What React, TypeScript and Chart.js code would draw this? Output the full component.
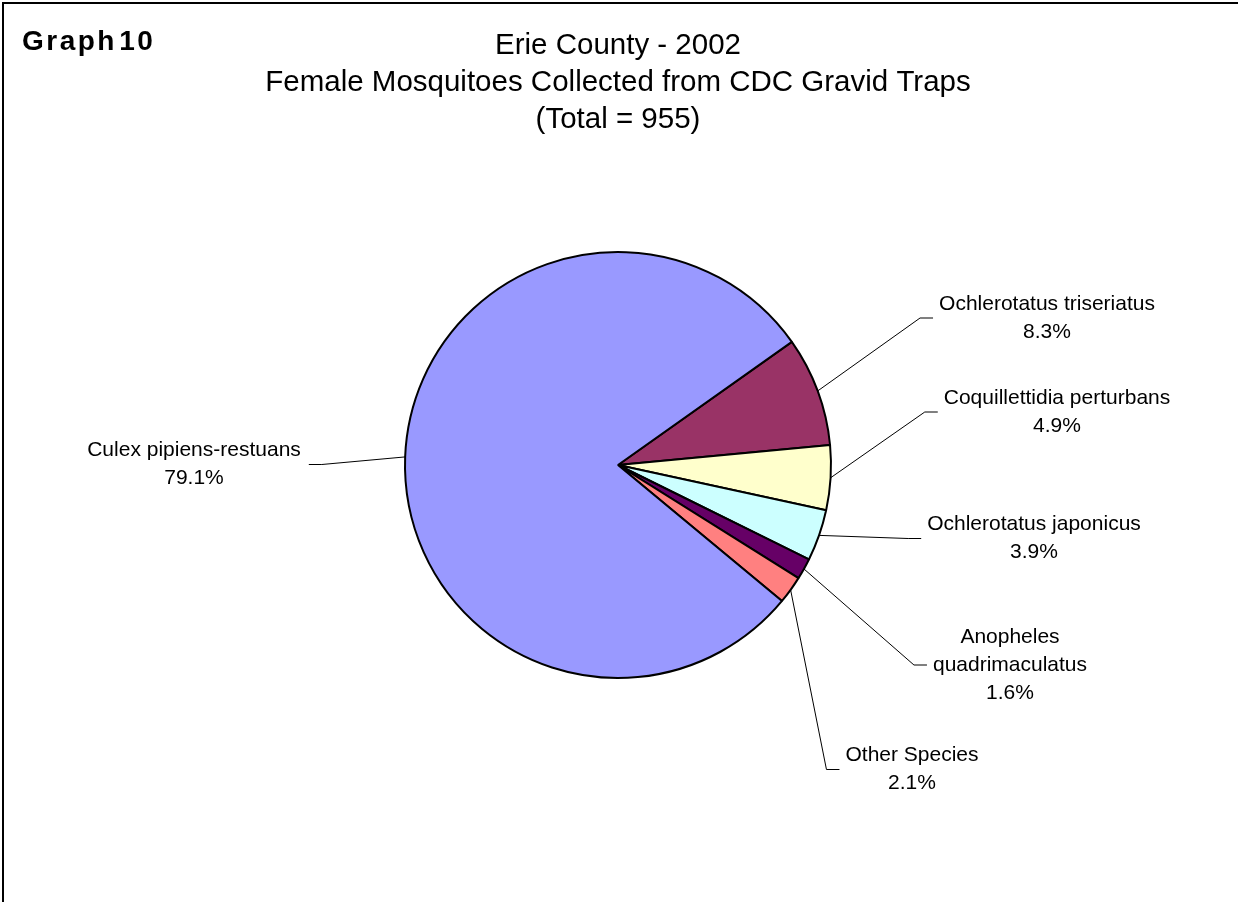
import React, { useEffect, useRef } from 'react';
import { Chart, registerables } from 'chart.js';

Chart.register(...registerables);

// ---- data ----
const categories = [
  'Ochlerotatus triseriatus',
  'Coquillettidia perturbans',
  'Ochlerotatus japonicus',
  'Anopheles quadrimaculatus',
  'Other Species',
  'Culex pipiens-restuans',
];
const percentages = [8.3, 4.9, 3.9, 1.6, 2.1, 79.1];
const titleLines = [
  'Erie County - 2002',
  'Female Mosquitoes Collected from CDC Gravid Traps',
  '(Total = 955)',
];
const cornerLabel = 'Graph 10';

// ---- styles ----
const sliceColors = ['#993366', '#FFFFCC', '#CCFFFF', '#660066', '#FF8080', '#9999FF'];
const FONT = '"Liberation Sans", Arial, sans-serif';
// label block centre offsets from the pie centre (px)
const LABEL_OFFSETS: [number, number][] = [
  [429, -147],
  [439, -53],
  [416, 73.5],
  [392, 200],
  [294, 304.5],
  [-424, -0.5],
];
const LABEL_LH = 28;
const WRAP_WIDTH = 240;

function wrap(ctx: CanvasRenderingContext2D, text: string, maxW: number): string[] {
  if (ctx.measureText(text).width <= maxW) return [text];
  const words = text.split(' ');
  const out: string[] = [];
  let cur = '';
  for (const w of words) {
    const t = cur ? cur + ' ' + w : w;
    if (cur && ctx.measureText(t).width > maxW) {
      out.push(cur);
      cur = w;
    } else cur = t;
  }
  if (cur) out.push(cur);
  return out;
}

const labelPlugin = {
  id: 'excelLabels',
  afterDraw(chart: any) {
    const ctx: CanvasRenderingContext2D = chart.ctx;
    const meta = chart.getDatasetMeta(0);
    ctx.save();
    // frame
    ctx.strokeStyle = '#000';
    ctx.lineWidth = 2;
    ctx.beginPath();
    ctx.moveTo(3, chart.height);
    ctx.lineTo(3, 3);
    ctx.lineTo(chart.width, 3);
    ctx.stroke();
    // corner label
    ctx.font = 'bold 28px ' + FONT;
    (ctx as any).letterSpacing = '2.5px';
    (ctx as any).wordSpacing = '-8px';
    ctx.fillStyle = '#000';
    ctx.textAlign = 'left';
    ctx.textBaseline = 'alphabetic';
    ctx.fillText(cornerLabel, 22, 50);
    (ctx as any).letterSpacing = '0px';
    (ctx as any).wordSpacing = '0px';

    ctx.textBaseline = 'middle';
    ctx.font = '21px ' + FONT;
    meta.data.forEach((arc: any, i: number) => {
      const { x, y, startAngle, endAngle, outerRadius } = arc.getProps(
        ['x', 'y', 'startAngle', 'endAngle', 'outerRadius'],
        true
      );
      const mid = (startAngle + endAngle) / 2;
      const sx = x + Math.cos(mid) * outerRadius;
      const sy = y + Math.sin(mid) * outerRadius;
      const lines = wrap(ctx, categories[i], WRAP_WIDTH).concat([percentages[i].toFixed(1) + '%']);
      const [dx, dy] = LABEL_OFFSETS[i];
      const cx = x + dx;
      const cy = y + dy;
      const w = Math.max(...lines.map((l) => ctx.measureText(l).width));
      const right = dx > 0;
      const end = right ? cx - w / 2 - 6 : cx + w / 2 + 8;
      const elbow = right ? end - 13 : end + 13;
      ctx.strokeStyle = '#000';
      ctx.lineWidth = 1;
      ctx.beginPath();
      ctx.moveTo(sx, sy);
      ctx.lineTo(elbow, cy);
      ctx.lineTo(end, cy);
      ctx.stroke();
      ctx.textAlign = 'center';
      ctx.fillStyle = '#000';
      const top = cy - ((lines.length - 1) * LABEL_LH) / 2;
      lines.forEach((l, k) => ctx.fillText(l, cx, top + k * LABEL_LH));
    });
    ctx.restore();
  },
};

export default function App() {
  const ref = useRef<HTMLCanvasElement | null>(null);
  useEffect(() => {
    document.body.style.margin = '0';
    if (!ref.current) return;
    const chart = new Chart(ref.current, {
      type: 'pie',
      data: {
        labels: categories,
        datasets: [
          {
            data: percentages,
            backgroundColor: sliceColors,
            borderColor: '#000',
            borderWidth: 2,
            radius: 213,
          } as any,
        ],
      },
      options: {
        animation: false,
        responsive: false,
        devicePixelRatio: 1,
        rotation: 54.7,
        layout: { padding: { top: 0, left: 0, right: 2, bottom: 110.5 } },
        plugins: {
          legend: { display: false },
          tooltip: { enabled: false },
          title: {
            display: true,
            text: titleLines,
            color: '#000',
            font: { family: FONT, size: 29.5, weight: 'normal', lineHeight: '37px' } as any,
            padding: { top: 27.5, bottom: 0 },
          },
        },
      },
      plugins: [labelPlugin],
    });
    return () => chart.destroy();
  }, []);
  return (
    <div style={{ position: 'absolute', left: 0, top: 0, width: 1238, height: 902, background: '#fff' }}>
      <canvas ref={ref} width={1238} height={902} />
    </div>
  );
}
